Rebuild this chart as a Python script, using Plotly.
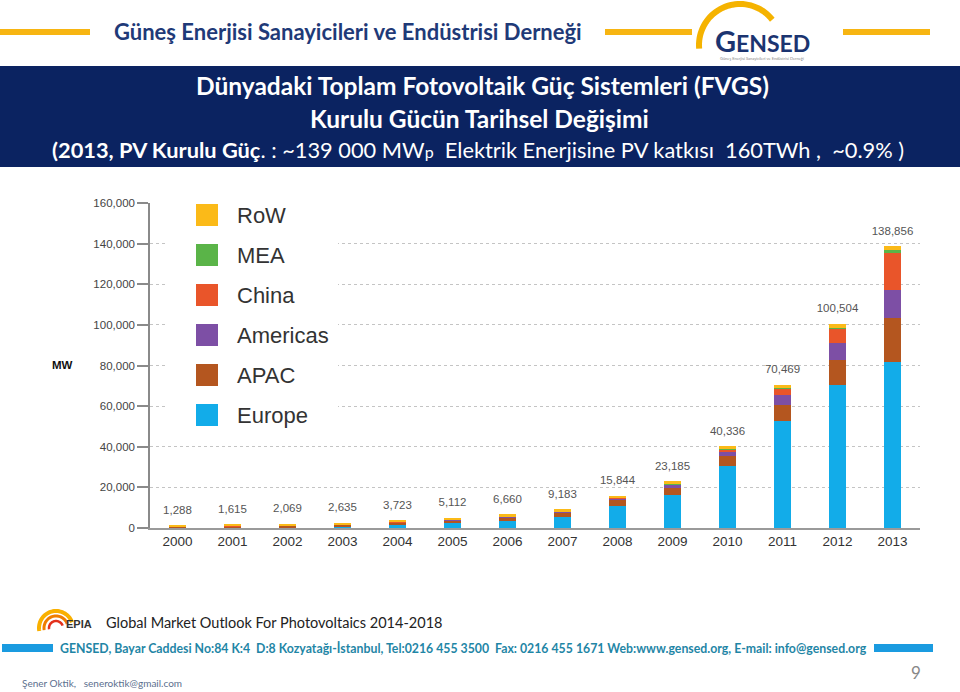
import math
import plotly.graph_objects as go

# ---------------- data ----------------
years = ["2000", "2001", "2002", "2003", "2004", "2005", "2006",
         "2007", "2008", "2009", "2010", "2011", "2012", "2013"]
totals = [1288, 1615, 2069, 2635, 3723, 5112, 6660,
          9183, 15844, 23185, 40336, 70469, 100504, 138856]

europe   = [190, 260, 400, 600, 1300, 2290, 3280, 5300, 11020, 16357, 30472, 52884, 70513, 81488]
apac     = [400, 500, 700, 950, 1300, 1600, 1900, 2200, 2600, 3300, 4900, 7600, 12100, 21800]
americas = [150, 200, 250, 300, 350, 400, 500, 700, 1100, 1700, 2500, 5053, 8400, 13900]
china    = [20, 30, 40, 50, 60, 70, 80, 100, 140, 300, 900, 3300, 7000, 18600]
mea      = [5, 5, 5, 10, 10, 10, 15, 20, 20, 30, 100, 200, 500, 950]
row      = [523, 620, 674, 725, 703, 742, 885, 863, 964, 1498, 1464, 1432, 1991, 2118]

series_names = ["Europe", "APAC", "Americas", "China", "MEA", "RoW"]
series_values = [europe, apac, americas, china, mea, row]
series_colors = ["#12ACE9", "#B4561F", "#7D4FA5", "#E9552A", "#5AB448", "#FBBA18"]

y_ticks = [0, 20000, 40000, 60000, 80000, 100000, 120000, 140000, 160000]

# ---------------- geometry helpers (pixel -> paper) ----------------
W, H = 960, 692
L, R, T, B = 150, 920, 203, 528


def fx(px):
    return (px - L) / (R - L)


def fy(py):
    return (B - py) / (B - T)


def arc_path(cx, cy, r, a0, a1, n=40):
    pts = []
    for i in range(n + 1):
        a = math.radians(a0 + (a1 - a0) * i / n)
        px = cx + r * math.cos(a)
        py = cy - r * math.sin(a)
        pts.append(f"{fx(px):.5f},{fy(py):.5f}")
    return "M" + " L".join(pts)


fig = go.Figure()

for name, vals, col in zip(series_names, series_values, series_colors):
    fig.add_trace(go.Bar(x=years, y=vals, name=name, marker_color=col,
                         marker_line_width=0, showlegend=False, hoverinfo="x+y+name"))

# value labels above stacks
fig.add_trace(go.Scatter(x=years, y=totals, mode="markers+text",
                         text=[f"{t:,}" for t in totals], textposition="top center",
                         marker=dict(size=12, opacity=0), showlegend=False,
                         cliponaxis=False,
                         textfont=dict(family="Liberation Sans, Arial", size=11.5, color="#555555")))

shapes = []
annotations = []

# ---------------- header ----------------
yellow = "#F7B512"
navy = "#0B2361"
for x0, x1 in [(0, 90), (605, 692), (843, 930)]:
    shapes.append(dict(type="rect", xref="paper", yref="paper",
                       x0=fx(x0), x1=fx(x1), y0=fy(35), y1=fy(29),
                       fillcolor=yellow, line_width=0, layer="above"))
annotations.append(dict(x=fx(348), y=fy(31), xref="paper", yref="paper",
                        text="<b>Güneş Enerjisi Sanayicileri ve Endüstrisi Derneği</b>",
                        showarrow=False, xanchor="center", yanchor="middle",
                        font=dict(family="Lato", size=22, color="#1F3A78")))
# GENSED logo
shapes.append(dict(type="path", xref="paper", yref="paper",
                   path=arc_path(740, 45, 41, 185, 38),
                   line=dict(color="#F5B300", width=6), layer="above"))
annotations.append(dict(x=fx(762), y=fy(41), xref="paper", yref="paper",
                        text="<b>G<span style='font-size:23px'>ENSED</span></b>",
                        showarrow=False, xanchor="center", yanchor="middle",
                        font=dict(family="Lato", size=29, color="#1B3470")))
annotations.append(dict(x=fx(762), y=fy(58), xref="paper", yref="paper",
                        text="Güneş Enerjisi Sanayicileri ve Endüstrisi Derneği",
                        showarrow=False, xanchor="center", yanchor="middle",
                        font=dict(family="Lato", size=4, color="#888888")))

# navy band
shapes.append(dict(type="rect", xref="paper", yref="paper",
                   x0=fx(0), x1=fx(960), y0=fy(167), y1=fy(66),
                   fillcolor=navy, line_width=0, layer="above"))
annotations.append(dict(x=fx(482), y=fy(86), xref="paper", yref="paper",
                        text="<b>Dünyadaki Toplam Fotovoltaik Güç Sistemleri (FVGS)</b>",
                        showarrow=False, xanchor="center", yanchor="middle",
                        font=dict(family="Lato", size=24.5, color="white")))
annotations.append(dict(x=fx(479), y=fy(118), xref="paper", yref="paper",
                        text="<b>Kurulu Gücün Tarihsel Değişimi</b>",
                        showarrow=False, xanchor="center", yanchor="middle",
                        font=dict(family="Lato", size=24.5, color="white")))
annotations.append(dict(x=fx(478), y=fy(149), xref="paper", yref="paper",
                        text="<b>(2013, PV Kurulu Güç</b>. : ~139 000 MW<span style='font-size:16px'>p</span>"
                             "  Elektrik Enerjisine PV katkısı  160TWh ,  ~0.9% )",
                        showarrow=False, xanchor="center", yanchor="middle",
                        font=dict(family="Lato", size=21.8, color="white")))

# ---------------- legend (custom, large swatches) ----------------
shapes.append(dict(type="rect", xref="paper", yref="paper",
                   x0=fx(168), x1=fx(338), y0=fy(434), y1=fy(194),
                   fillcolor="white", line_width=0, layer="above"))
for i, (name, col) in enumerate(zip(series_names[::-1], series_colors[::-1])):
    top = 204 + 40 * i
    shapes.append(dict(type="rect", xref="paper", yref="paper",
                       x0=fx(196), x1=fx(218), y0=fy(top + 22), y1=fy(top),
                       fillcolor=col, line_width=0, layer="above"))
    annotations.append(dict(x=fx(235), y=fy(top + 11), xref="paper", yref="paper",
                            text=name, showarrow=False, xanchor="left", yanchor="middle",
                            font=dict(family="Liberation Sans, Arial", size=22, color="#333333")))

# MW label
annotations.append(dict(x=fx(62), y=fy(365), xref="paper", yref="paper",
                        text="<b>MW</b>", showarrow=False, xanchor="center", yanchor="middle",
                        font=dict(family="Liberation Sans, Arial", size=11.5, color="#111111")))

# ---------------- footer ----------------
# EPIA logo
for r_, c_, w_ in [(17, "#F9B000", 4), (12, "#F07D00", 3), (7, "#E3301C", 2.5)]:
    shapes.append(dict(type="path", xref="paper", yref="paper",
                       path=arc_path(56, 628, r_, 190, 20),
                       line=dict(color=c_, width=w_), layer="above"))
annotations.append(dict(x=fx(79), y=fy(624), xref="paper", yref="paper",
                        text="<b>EPIA</b>", showarrow=False, xanchor="center", yanchor="middle",
                        font=dict(family="Liberation Sans, Arial", size=11, color="#333333")))
annotations.append(dict(x=fx(104), y=fy(622), xref="paper", yref="paper",
                        text="Global Market Outlook For Photovoltaics 2014-2018",
                        showarrow=False, xanchor="left", yanchor="middle",
                        font=dict(family="Lato", size=14.5, color="#222222")))
for x0, x1 in [(2, 53), (874, 933)]:
    shapes.append(dict(type="rect", xref="paper", yref="paper",
                       x0=fx(x0), x1=fx(x1), y0=fy(652), y1=fy(644),
                       fillcolor="#1A9BE0", line_width=0, layer="above"))
annotations.append(dict(x=fx(58), y=fy(648), xref="paper", yref="paper",
                        text="<b>GENSED, Bayar Caddesi No:84 K:4  D:8 Kozyatağı-İstanbul, Tel:0216 455 3500  "
                             "Fax: 0216 455 1671 Web:www.gensed.org, E-mail: info@gensed.org</b>",
                        showarrow=False, xanchor="left", yanchor="middle",
                        font=dict(family="Lato", size=12.3, color="#1F86A6")))
annotations.append(dict(x=fx(916), y=fy(672), xref="paper", yref="paper",
                        text="9", showarrow=False, xanchor="center", yanchor="middle",
                        font=dict(family="Lato", size=17, color="#888888")))
annotations.append(dict(x=fx(20), y=fy(683), xref="paper", yref="paper",
                        text="Şener Oktik,   seneroktik@gmail.com", showarrow=False,
                        xanchor="left", yanchor="middle",
                        font=dict(family="Lato", size=10, color="#5B6F8E")))

fig.update_layout(
    width=W, height=H,
    margin=dict(l=L, r=W - R, t=T, b=H - B, pad=0),
    paper_bgcolor="white", plot_bgcolor="white",
    barmode="stack", bargap=0.69,
    showlegend=False,
    shapes=shapes, annotations=annotations,
    font=dict(family="Liberation Sans, Arial", color="#333333"),
)
fig.update_xaxes(type="category", range=[-0.5, 13.5], showgrid=False,
                 showline=True, linecolor="#9a9a9a", linewidth=2,
                 ticks="", tickfont=dict(size=13.5, color="#333333"))
fig.update_yaxes(range=[0, 160000], tickvals=y_ticks, tickformat=",",
                 showgrid=True, gridcolor="#c4c4c4", griddash="dot", gridwidth=1,
                 zeroline=False, showline=True, linecolor="#8a8a8a", linewidth=1.5,
                 ticks="outside", ticklen=11, tickcolor="#8a8a8a", tickwidth=1.5,
                 tickfont=dict(size=11.5, color="#444444"))

fig.write_html("out.html", config={"displayModeBar": False},
               post_script="document.body.style.margin='0';document.body.style.overflow='hidden';")
